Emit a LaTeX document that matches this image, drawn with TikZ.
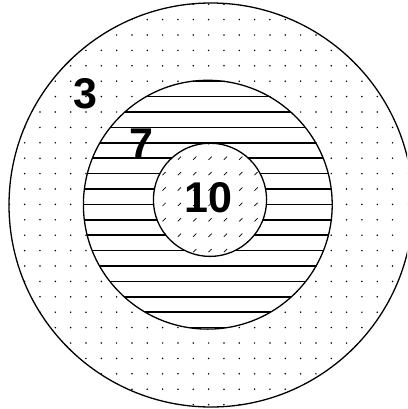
\documentclass[tikz,border=0pt]{standalone}
\usepackage{fontspec}
\setmainfont{Liberation Sans}
\usepackage{tikz}
\definecolor{TargetInk}{RGB}{0,0,0}

\begin{document}
\begin{tikzpicture}[x=1pt,y=-1pt]
    \tikzset{ringlabel/.style={inner sep=0pt,text=TargetInk,font=\fontsize{43}{43}\selectfont\bfseries},
      ringedge/.style={draw=TargetInk,line width=1.3pt}}
    \useasboundingbox (0,0) rectangle (407,409);
    \clip (0,0) rectangle (407,409);
    % outer ring, dotted
    \begin{scope}
      \clip (211,205) circle[radius=202pt];
      \foreach \i in {0,...,26}
        \foreach \j in {0,...,26}
          \fill[TargetInk] ({9.33+15.33*\i},{4.2+15.4*\j}) circle[radius=0.85pt];
    \end{scope}
    \draw[ringedge] (211,205) circle[radius=202pt];
    % middle ring, horizontal lines
    \fill[white] (207.8,204.7) circle[radius=124.4pt];
    \begin{scope}
      \clip (207.8,204.7) circle[radius=124.4pt];
      \foreach \j in {0,...,26}
        \draw[TargetInk,line width=1.5pt] (0,{4.2+15.4*\j}) -- (407,{4.2+15.4*\j});
    \end{scope}
    \draw[ringedge] (207.8,204.7) circle[radius=124.4pt];
    % bull, short slashes
    \fill[white] (210,199.8) circle[radius=56.6pt];
    \begin{scope}
      \clip (210,199.8) circle[radius=56.6pt];
      \foreach \i in {9,...,17}
        \foreach \j in {8,...,17}
          \draw[TargetInk,line width=0.7pt] ({10.8+15.33*\i-1.6},{4.2+15.4*\j+1.6}) -- ({10.8+15.33*\i+1.6},{4.2+15.4*\j-1.6});
    \end{scope}
    \draw[ringedge] (210,199.8) circle[radius=56.6pt];
    % scores
    \node[ringlabel] (three) at (85.7,93.3) {3};
    \node[ringlabel] (seven) at (141,143.3) {7};
    \node[ringlabel] (ten) at (208.8,197.7) {10};
  \end{tikzpicture}
\end{document}
